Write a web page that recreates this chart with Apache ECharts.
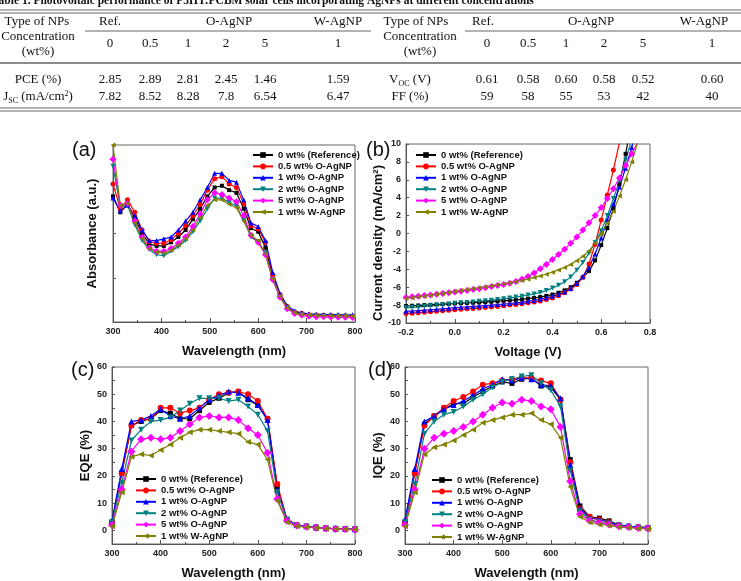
<!DOCTYPE html>
<html lang="en">
<head>
<meta charset="UTF-8">
<title>AgNP solar cells</title>
<script src="https://cdn.jsdelivr.net/npm/echarts@6/dist/echarts.min.js"></script>
<style>
body{margin:0;background:#fff;}
</style>
</head>
<body>
<div id="main" style="width:741px;height:581px;"></div>
<script>
// series names / looks (same order in every panel)
var names = ['0 wt% (Reference)', '0.5 wt% O-AgNP', '1 wt% O-AgNP', '2 wt% O-AgNP', '5 wt% O-AgNP', '1 wt% W-AgNP'];
var colors = ['#000000', '#ff0000', '#0000ff', '#008080', '#ff00ff', '#808000'];
var symbols = ['rect', 'circle', 'triangle', 'triangle', 'diamond', 'triangle'];
var rotates = [0, 0, 0, 180, 0, 90];

// table values
var concLeft = ['0', '0.5', '1', '2', '5', '1'];
var pce = ['2.85', '2.89', '2.81', '2.45', '1.46', '1.59'];
var jsc = ['7.82', '8.52', '8.28', '7.8', '6.54', '6.47'];
var voc = ['0.61', '0.58', '0.60', '0.58', '0.52', '0.60'];
var ff = ['59', '58', '55', '53', '42', '40'];

// (a) absorbance, arbitrary units
var wlAbs = [300,315,330,345,360,375,390,405,420,435,450,465,480,495,510,525,540,555,570,585,600,615,630,645,660,675,690,705,720,735,750,765,780,795];
var absRef = [0.71,0.62,0.665,0.59,0.50,0.44,0.43,0.43,0.45,0.48,0.52,0.58,0.64,0.71,0.76,0.77,0.745,0.73,0.64,0.53,0.51,0.42,0.26,0.15,0.085,0.057,0.047,0.04,0.038,0.036,0.035,0.034,0.033,0.033];
var abs05 = [0.78,0.64,0.69,0.62,0.52,0.455,0.445,0.445,0.465,0.50,0.545,0.60,0.665,0.745,0.81,0.82,0.78,0.76,0.67,0.545,0.525,0.45,0.265,0.155,0.088,0.058,0.048,0.041,0.039,0.037,0.036,0.035,0.034,0.034];
var abs1 = [0.70,0.63,0.66,0.60,0.52,0.46,0.46,0.47,0.48,0.52,0.57,0.62,0.69,0.76,0.84,0.84,0.80,0.79,0.69,0.56,0.54,0.46,0.28,0.16,0.092,0.062,0.052,0.046,0.044,0.043,0.042,0.042,0.041,0.041];
var abs2 = [0.88,0.65,0.66,0.55,0.46,0.41,0.38,0.375,0.40,0.425,0.46,0.51,0.57,0.64,0.70,0.70,0.675,0.655,0.575,0.48,0.45,0.39,0.24,0.14,0.08,0.052,0.043,0.037,0.035,0.034,0.033,0.032,0.032,0.031];
var abs5 = [0.92,0.66,0.67,0.57,0.48,0.42,0.40,0.40,0.415,0.445,0.48,0.54,0.61,0.69,0.73,0.72,0.70,0.68,0.60,0.49,0.45,0.38,0.24,0.14,0.075,0.048,0.038,0.032,0.03,0.029,0.028,0.027,0.027,0.026];
var absW = [1.0,0.66,0.67,0.56,0.47,0.415,0.395,0.39,0.405,0.435,0.47,0.52,0.59,0.66,0.69,0.69,0.665,0.645,0.57,0.49,0.46,0.385,0.245,0.145,0.08,0.052,0.043,0.039,0.037,0.036,0.035,0.034,0.034,0.033];

// (b) J-V
var volt = [-0.2,-0.175,-0.15,-0.125,-0.1,-0.075,-0.05,-0.025,0,0.025,0.05,0.075,0.1,0.125,0.15,0.175,0.2,0.225,0.25,0.275,0.3,0.325,0.35,0.375,0.4,0.425,0.45,0.475,0.5,0.525,0.55,0.575,0.6,0.625,0.65,0.675,0.7,0.725,0.75];
var jvRef = [-8.10,-8.07,-8.04,-8.00,-7.97,-7.93,-7.90,-7.86,-7.82,-7.79,-7.76,-7.73,-7.70,-7.66,-7.62,-7.57,-7.52,-7.47,-7.42,-7.35,-7.28,-7.20,-7.10,-6.97,-6.82,-6.62,-6.35,-6.00,-5.50,-4.90,-4.20,-3.00,-1.30,0.60,2.80,5.50,8.90,12.5];
var jv05 = [-8.95,-8.90,-8.85,-8.80,-8.75,-8.70,-8.64,-8.58,-8.52,-8.47,-8.42,-8.37,-8.32,-8.27,-8.21,-8.15,-8.08,-8.00,-7.92,-7.84,-7.75,-7.65,-7.53,-7.38,-7.20,-6.95,-6.62,-6.20,-5.70,-4.90,-3.40,-1.20,1.50,4.30,7.10,10.2];
var jv1 = [-8.70,-8.66,-8.62,-8.57,-8.52,-8.47,-8.42,-8.35,-8.28,-8.24,-8.20,-8.15,-8.10,-8.05,-8.00,-7.94,-7.88,-7.82,-7.75,-7.67,-7.58,-7.48,-7.36,-7.20,-7.02,-6.82,-6.55,-6.15,-5.60,-4.80,-3.80,-2.30,-0.50,1.50,3.30,5.20,7.30,9.60,12.0];
var jv2 = [-8.30,-8.25,-8.20,-8.14,-8.08,-8.02,-7.96,-7.88,-7.80,-7.75,-7.70,-7.64,-7.58,-7.52,-7.45,-7.38,-7.30,-7.20,-7.10,-7.00,-6.88,-6.75,-6.60,-6.38,-6.10,-5.78,-5.40,-4.85,-4.10,-3.25,-2.20,-1.00,0.30,2.00,3.90,5.90,8.20,10.5];
var jv5 = [-7.15,-7.08,-7.00,-6.93,-6.86,-6.78,-6.70,-6.62,-6.54,-6.45,-6.36,-6.26,-6.16,-6.05,-5.93,-5.82,-5.70,-5.55,-5.35,-5.10,-4.80,-4.40,-3.95,-3.45,-2.90,-2.35,-1.75,-1.10,-0.40,0.40,1.20,2.00,2.90,3.90,5.00,6.20,7.60,8.90,10.2];
var jvW = [-7.25,-7.17,-7.08,-7.00,-6.90,-6.80,-6.70,-6.58,-6.47,-6.37,-6.27,-6.17,-6.07,-5.97,-5.86,-5.75,-5.64,-5.52,-5.39,-5.25,-5.10,-4.93,-4.75,-4.55,-4.33,-4.08,-3.80,-3.45,-3.05,-2.55,-1.95,-1.10,0.00,1.20,2.50,4.20,6.00,8.00,10.2];

// (c) EQE and (d) IQE
var wlQE = [300,320,340,360,380,400,420,440,460,480,500,520,540,560,580,600,620,640,660,680,700,720,740,760,780,800];
var eqeRef = [3,21,38.5,40,41,44,43,41,41,44,47,48.5,50.5,51,48,46,41,16,4,2,1.5,1,0.8,0.6,0.5,0.5];
var eqe05 = [3,21,38.5,40.5,41,45,45,43,44,45,48,50,50.5,51,50,47.5,41,17,4,2,1.5,1.2,0.8,0.6,0.5,0.4];
var eqe1 = [3.5,22.5,40,40.5,42,44.5,42,41,42,45,48,49.5,51,50.5,48.5,46,40.5,15,4,2,1.5,1.1,0.8,0.6,0.5,0.4];
var eqe2 = [3,17.5,33,37,40,40.5,41.5,44,46.5,48.5,48.5,48.5,47.5,48,45.5,42.5,36.5,14,4,1.8,1.4,1.1,0.8,0.6,0.5,0.4];
var eqe5 = [2,15,29,33.5,34,33.5,34,36.5,39,41.5,42,41.5,41.5,40.5,37.5,35,28.5,11.5,3.5,1.8,1.3,1.0,0.7,0.5,0.4,0.3];
var eqeW = [1.5,14,27,28,27.5,29.5,31.5,34,36,37,37,36.5,36,35.5,32.5,31.5,26,11,3,1.5,1.2,0.9,0.6,0.5,0.4,0.3];
var iqeRef = [3,21,39,42,44.5,46.5,46.5,49,51,53,54.5,54,55.5,56,53,52.5,48,26,9,5,4.5,3.5,2,1.5,1.2,1.0];
var iqe05 = [3,21,38.5,42,45,47.5,49,51,53.5,54,55,55.5,56,56,55,54,48,25,8,5,4,3,2,1.5,1.2,1.0];
var iqe1 = [4,22.5,40,42,44.5,46,47.5,49.5,52,53.5,55.5,55,56,55.5,53.5,53,48.5,24,8,4.5,4,3,2,1.5,1.2,1.0];
var iqe2 = [3,17,35.5,40,42.5,43.5,45.5,48,50,52.5,54.5,55.5,56.5,57,54,51.5,45.5,22,7,4,3,2.5,1.8,1.3,1.0,0.8];
var iqe5 = [2,15,30,34,35.5,36.5,38,40,42.5,45,47,46.5,48,47.5,45.5,44.5,38,18,6,3.5,2.8,2.2,1.5,1.2,0.9,0.7];
var iqeW = [1.5,14,28,30.5,31.5,33,35,37,39.5,40.5,41.5,42.5,42.5,43,40.5,39,34,16,5,3,2.2,1.8,1.2,1.0,0.7,0.5];

var sans = 'Liberation Sans';
var serif = 'Liberation Serif';

function makeSeries(g, xs, list, size) {
    return list.map(function (ys, i) {
        return {
            type: 'line',
            name: names[i],
            xAxisIndex: g,
            yAxisIndex: g,
            data: ys.map(function (y, k) { return [xs[k], y]; }),
            symbol: symbols[i],
            symbolRotate: rotates[i],
            symbolSize: symbols[i] === 'diamond' ? size + 2 : (symbols[i] === 'rect' ? size - 1 : size),
            showAllSymbol: true,
            color: colors[i],
            lineStyle: { width: 1.2 },
            clip: true
        };
    });
}

function xAx(g, min, max, interval, name, fmt) {
    return {
        gridIndex: g, type: 'value', min: min, max: max, interval: interval,
        name: name, nameLocation: 'middle', nameGap: 23,
        nameTextStyle: { fontFamily: sans, fontWeight: 'bold', fontSize: 13, color: '#111' },
        axisLine: { onZero: false, lineStyle: { color: '#555', width: 1 } },
        axisTick: { inside: true, length: 4, lineStyle: { color: '#555' } },
        minorTick: { show: true, splitNumber: 2, length: 2, lineStyle: { color: '#555' } },
        axisLabel: { fontFamily: sans, fontWeight: 'bold', fontSize: 9, color: '#222', margin: 5, formatter: fmt },
        splitLine: { show: false }
    };
}

function yAx(g, min, max, interval, name, gap, fmt, showLabel) {
    return {
        gridIndex: g, type: 'value', min: min, max: max, interval: interval,
        name: name, nameLocation: 'middle', nameGap: gap,
        nameTextStyle: { fontFamily: sans, fontWeight: 'bold', fontSize: 13, color: '#111' },
        axisLine: { onZero: false, lineStyle: { color: '#555', width: 1 } },
        axisTick: { show: true, inside: true, length: 3, lineStyle: { color: '#555' } },
        axisLabel: { show: showLabel, fontFamily: sans, fontWeight: 'bold', fontSize: 9, color: '#222', margin: 5, formatter: fmt },
        splitLine: { show: false }
    };
}

function legendAt(left, top) {
    return {
        left: left, top: top, orient: 'vertical', padding: 0,
        itemWidth: 20, itemHeight: 7, itemGap: 1.4,
        textStyle: { fontFamily: sans, fontWeight: 'bold', fontSize: 9.5, lineHeight: 10, color: '#111' },
        data: names
    };
}

// ---- table drawn as graphic
var gfx = [];
function txt(x, y, s, font, align) {
    gfx.push({ type: 'text', x: x, y: y, style: { text: s, font: font || ('13px ' + serif), fill: '#111', align: align || 'center', verticalAlign: 'middle' } });
}
function rich(x, y, s) {
    gfx.push({ type: 'text', x: x, y: y, style: {
        text: s, align: 'center', verticalAlign: 'middle', fill: '#111',
        rich: {
            n: { font: '13px ' + serif, lineHeight: 15 },
            s: { font: '8px ' + serif, lineHeight: 15, verticalAlign: 'bottom' },
            p: { font: '8px ' + serif, lineHeight: 15, verticalAlign: 'top' }
        }
    } });
}
function rule(x1, x2, y, w) {
    gfx.push({ type: 'line', shape: { x1: x1, y1: y, x2: x2, y2: y }, style: { stroke: '#666', lineWidth: w || 1 } });
}

txt(-8, 1, 'Table 1. Photovoltaic performance of P3HT:PCBM solar cells incorporating AgNPs at different concentrations', 'bold 11.5px ' + serif, 'left');
rule(0, 741, 10, 1.2); rule(0, 741, 13, 1.2);
rule(85, 371, 31); rule(465, 741, 31);
rule(0, 741, 63, 1.5);
rule(0, 741, 108, 1.2); rule(0, 741, 111, 1.2);

var colL = [110, 150, 188, 226, 265, 338];
var colR = [487, 528, 566, 604, 643, 712];
txt(37, 22, 'Type of NPs'); txt(110, 22, 'Ref.'); txt(229, 22, 'O-AgNP'); txt(338, 22, 'W-AgNP');
txt(416, 22, 'Type of NPs'); txt(483, 22, 'Ref.'); txt(591, 22, 'O-AgNP'); txt(704, 22, 'W-AgNP');
txt(38, 37, 'Concentration'); txt(38, 52, '(wt%)');
txt(420, 37, 'Concentration'); txt(420, 52, '(wt%)');
txt(38, 80, 'PCE (%)');
rich(38, 97, '{n|J}{s|SC}{n| (mA/cm}{p|2}{n|)}');
rich(410, 80, '{n|V}{s|OC}{n| (V)}');
txt(410, 97, 'FF (%)');
for (var i = 0; i < 6; i++) {
    txt(colL[i], 44, concLeft[i]);
    txt(colR[i], 44, concLeft[i]);
    txt(colL[i], 80, pce[i]);
    txt(colL[i], 97, jsc[i]);
    txt(colR[i], 80, voc[i]);
    txt(colR[i], 97, ff[i]);
}

// panel letters
txt(72, 150, '(a)', '20px ' + sans, 'left');
txt(366, 150, '(b)', '20px ' + sans, 'left');
txt(71, 370, '(c)', '20px ' + sans, 'left');
txt(368, 370, '(d)', '20px ' + sans, 'left');

// y title of (b) sits a bit below the plot middle in the original
gfx.push({ type: 'text', x: 378, y: 243, rotation: Math.PI / 2,
    style: { text: 'Current density (mA/cm²)', font: 'bold 13px ' + sans, fill: '#111', align: 'center', verticalAlign: 'middle' } });

var myChart = echarts.init(document.getElementById('main'));
var grids = [
    { left: 113, top: 145, width: 242, height: 177 },
    { left: 406, top: 144, width: 244, height: 179 },
    { left: 112, top: 367, width: 243, height: 180 },
    { left: 405, top: 367, width: 243, height: 181 }
];
grids.forEach(function (g) { g.show = true; g.borderColor = '#666'; g.borderWidth = 1; g.backgroundColor = 'transparent'; });

var tenOnly = function (v) { return v % 10 === 0 ? v : ''; };
var oneDec = function (v) { return v.toFixed(1); };

var option = {
    animation: false,
    backgroundColor: '#fff',
    grid: grids,
    graphic: gfx,
    legend: [legendAt(252, 150), legendAt(415, 150), legendAt(135, 474), legendAt(431, 475)],
    xAxis: [
        xAx(0, 300, 800, 100, 'Wavelength (nm)'),
        xAx(1, -0.2, 0.8, 0.2, 'Voltage (V)', oneDec),
        xAx(2, 300, 800, 100, 'Wavelength (nm)'),
        xAx(3, 300, 800, 100, 'Wavelength (nm)')
    ],
    yAxis: [
        yAx(0, 0, 1, 0.25, 'Absorbance (a.u.)', 14, null, false),
        yAx(1, -10, 10, 2, '', 18, null, true),
        yAx(2, -5, 60, 5, 'EQE (%)', 20, tenOnly, true),
        yAx(3, -5, 60, 5, 'IQE (%)', 20, tenOnly, true)
    ],
    series: [].concat(
        makeSeries(0, wlAbs, [absRef, abs05, abs1, abs2, abs5, absW], 5),
        makeSeries(1, volt, [jvRef, jv05, jv1, jv2, jv5, jvW], 5),
        makeSeries(2, wlQE, [eqeRef, eqe05, eqe1, eqe2, eqe5, eqeW], 6),
        makeSeries(3, wlQE, [iqeRef, iqe05, iqe1, iqe2, iqe5, iqeW], 6)
    )
};
myChart.setOption(option);
</script>
</body>
</html>
